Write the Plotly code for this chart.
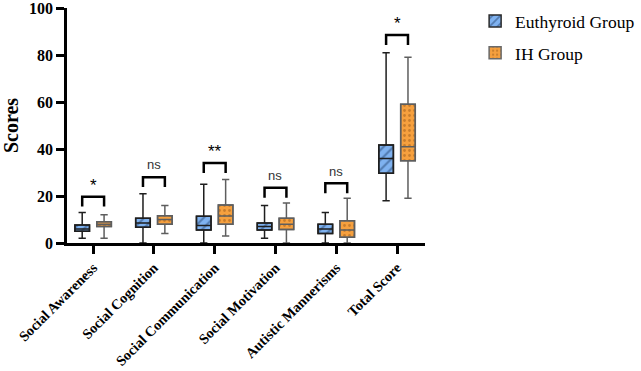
import plotly.graph_objects as go

categories = ["Social Awareness", "Social Cognition", "Social Communication",
              "Social Motivation", "Autistic Mannerisms", "Total Score"]

eu_min = [2, 0, 0, 2, 0, 18]
eu_q1 = [5, 6.7, 5.5, 5.5, 4, 29.7]
eu_med = [6, 8.5, 7.5, 7, 6, 36]
eu_q3 = [7.7, 10.5, 11.4, 8.5, 8, 41.7]
eu_max = [13, 21, 25, 16, 13, 81]

ih_min = [2, 4, 3, 0, 0, 19]
ih_q1 = [7, 8, 8, 5.7, 2.4, 35]
ih_med = [8, 10, 11.5, 8, 5.5, 41]
ih_q3 = [9, 11.6, 16.2, 10.5, 9.5, 59]
ih_max = [12, 16, 27, 17, 19, 79]

sig_labels = ["*", "ns", "**", "ns", "ns", "*"]
bracket_top = [19.7, 28, 34, 23.5, 25.4, 88.5]

OFF = 0.18
W = 0.24
idx = list(range(len(categories)))
x_eu = [i - OFF for i in idx]
x_ih = [i + OFF for i in idx]

SERIF = "Liberation Serif, Times New Roman, serif"

fig = go.Figure()

# patterned box bodies (also used for legend)
fig.add_trace(go.Bar(
    x=x_eu, y=[b - a for a, b in zip(eu_q1, eu_q3)], base=eu_q1, width=W,
    name="Euthyroid Group", legendgroup="eu",
    marker=dict(color="#7fb2f0", line=dict(color="#2a2a2a", width=1.5),
                pattern=dict(shape="/", fgcolor="#23436f", size=7, solidity=0.3,
                             fillmode="overlay")),
    hoverinfo="skip"))
fig.add_trace(go.Bar(
    x=x_ih, y=[b - a for a, b in zip(ih_q1, ih_q3)], base=ih_q1, width=W,
    name="IH Group", legendgroup="ih",
    marker=dict(color="#f6a03e", line=dict(color="#6a6a6a", width=1.5),
                pattern=dict(shape=".", fgcolor="#9a5a1a", size=5, solidity=0.25,
                             fillmode="overlay")),
    hoverinfo="skip"))

# whiskers and medians
fig.add_trace(go.Box(
    x=x_eu, q1=eu_q1, median=eu_med, q3=eu_q3, lowerfence=eu_min, upperfence=eu_max,
    width=W, fillcolor="rgba(0,0,0,0)", line=dict(color="#1e1e1e", width=1.5),
    whiskerwidth=0.5, showlegend=False, hoverinfo="skip"))
fig.add_trace(go.Box(
    x=x_ih, q1=ih_q1, median=ih_med, q3=ih_q3, lowerfence=ih_min, upperfence=ih_max,
    width=W, fillcolor="rgba(0,0,0,0)", line=dict(color="#5e5e5e", width=1.5),
    whiskerwidth=0.5, showlegend=False, hoverinfo="skip"))

# significance brackets
shapes = []
annotations = []
for i, (lab, top) in enumerate(zip(sig_labels, bracket_top)):
    leg = 4.2
    shapes.append(dict(
        type="path", xref="x", yref="y",
        path=f"M {x_eu[i]},{top - leg} L {x_eu[i]},{top} L {x_ih[i]},{top} L {x_ih[i]},{top - leg}",
        line=dict(color="black", width=2.5)))
    is_ns = lab == "ns"
    annotations.append(dict(
        x=i, y=top + (5.2 if is_ns else 4.8), xref="x", yref="y", text=lab, showarrow=False,
        font=dict(family="Liberation Sans, Arial, sans-serif",
                  size=13 if is_ns else 17, color="#333" if is_ns else "black")))

fig.update_layout(
    width=641, height=371,
    margin=dict(l=67, r=216, t=8, b=128, autoexpand=False),
    plot_bgcolor="white", paper_bgcolor="white",
    barmode="overlay", boxmode="overlay",
    shapes=shapes, annotations=annotations,
    showlegend=True,
    legend=dict(x=1.14, y=1.021, xanchor="left", yanchor="top",
                font=dict(family=SERIF, size=17.5, color="black"),
                itemwidth=30, tracegroupgap=6, bgcolor="rgba(0,0,0,0)"),
    xaxis=dict(range=[-0.43, 5.46], tickmode="array", tickvals=idx, ticktext=categories,
               tickangle=-45, showline=True, linecolor="black", linewidth=2.5,
               ticks="outside", ticklen=8, tickwidth=2.5, tickcolor="black",
               showgrid=False, zeroline=False, automargin=False,
               ticklabeloverflow="allow",
               tickfont=dict(family=SERIF, size=14.3, color="black", weight="bold")),
    yaxis=dict(range=[0, 100], tickvals=[0, 20, 40, 60, 80, 100],
               showline=True, linecolor="black", linewidth=2.5,
               ticks="outside", ticklen=8, tickwidth=2.5, tickcolor="black",
               showgrid=False, zeroline=False, automargin=False,
               ticklabeloverflow="allow",
               tickfont=dict(family=SERIF, size=16, color="black", weight="bold"),
               title=dict(text="Scores", standoff=12,
                          font=dict(family=SERIF, size=20, color="black", weight="bold"))),
)

fig.write_html("out.html")
